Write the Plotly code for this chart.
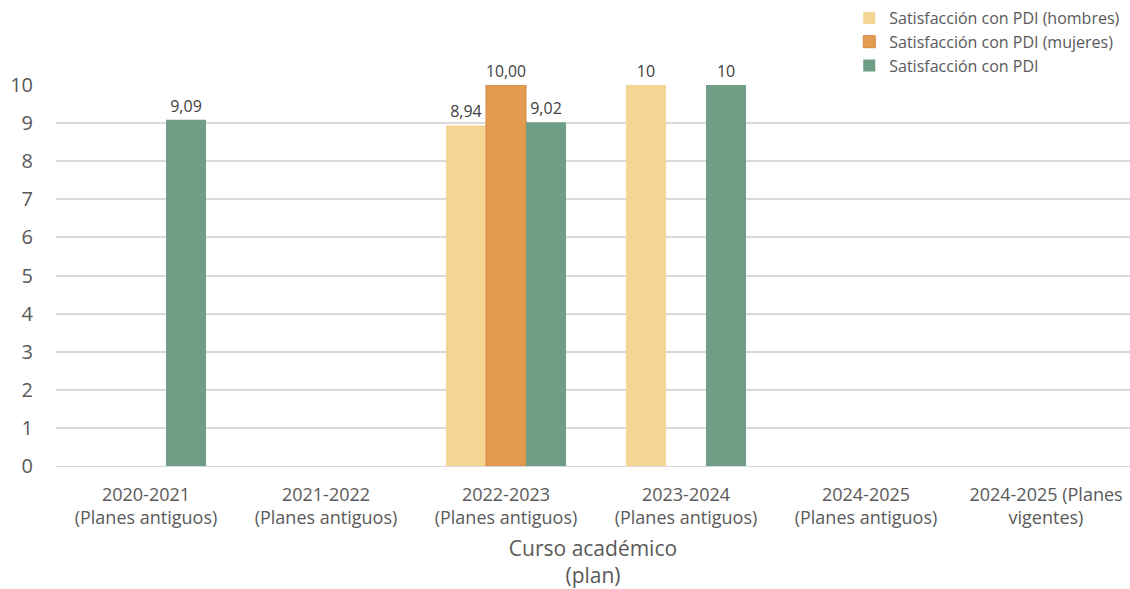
import plotly.graph_objects as go

categories = ["2020-2021<br>(Planes antiguos)", "2021-2022<br>(Planes antiguos)",
              "2022-2023<br>(Planes antiguos)", "2023-2024<br>(Planes antiguos)",
              "2024-2025<br>(Planes antiguos)", "2024-2025 (Planes<br>vigentes)"]
hombres = [None, None, 8.94, 10, None, None]
hombres_lbl = ["", "", "8,94", "10", "", ""]
mujeres = [None, None, 10.00, None, None, None]
mujeres_lbl = ["", "", "10,00", "", "", ""]
total = [9.09, None, 9.02, 10, None, None]
total_lbl = ["9,09", "", "9,02", "10", "", ""]

FONT = "'Open Sans', sans-serif"
TXT = "#595959"

fig = go.Figure()
fig.add_bar(name="Satisfacción con PDI (hombres)", x=categories, y=hombres,
            text=hombres_lbl, textposition="outside", cliponaxis=False,
            marker=dict(color="#F5D593", line=dict(width=0)))
fig.add_bar(name="Satisfacción con PDI (mujeres)", x=categories, y=mujeres,
            text=mujeres_lbl, textposition="outside", cliponaxis=False,
            marker=dict(color="#E39B50", line=dict(color="#D08A44", width=1)))
fig.add_bar(name="Satisfacción con PDI", x=categories, y=total,
            text=total_lbl, textposition="outside", cliponaxis=False,
            marker=dict(color="#6E9F86", line=dict(width=0)))

fig.update_traces(textfont=dict(size=16, color="#404040", family=FONT))

fig.update_layout(
    width=1130, height=589,
    margin=dict(l=56, r=0, t=85, b=123, autoexpand=False),
    paper_bgcolor="white", plot_bgcolor="white",
    barmode="group", bargap=0.333, bargroupgap=0,
    font=dict(family=FONT, color=TXT),
    legend=dict(x=0.7386, xanchor="left", y=1.2205, yanchor="top",
                font=dict(size=16, color=TXT, family=FONT),
                tracegroupgap=0, itemwidth=30, bgcolor="rgba(0,0,0,0)"),
)
fig.update_xaxes(range=[-0.5, -0.5 + 1074 / 180], showgrid=False, automargin=False,
                 showline=True, linecolor="#d9d9d9", linewidth=1,
                 ticks="", tickfont=dict(size=18, color=TXT, family=FONT),
                 ticklabelstandoff=12,
                 title=dict(text="Curso académico<br>(plan)", standoff=19,
                            font=dict(size=21, color=TXT, family=FONT)))
fig.update_yaxes(range=[0, 10], dtick=1, showgrid=True, gridcolor="#d9d9d9",
                 gridwidth=2, zeroline=False, ticks="", automargin=False,
                 tickfont=dict(size=20, color=TXT, family=FONT), ticklabelstandoff=22)

fig.write_html("out.html", config={"displayModeBar": False},
               post_script="document.body.style.margin='0';")
